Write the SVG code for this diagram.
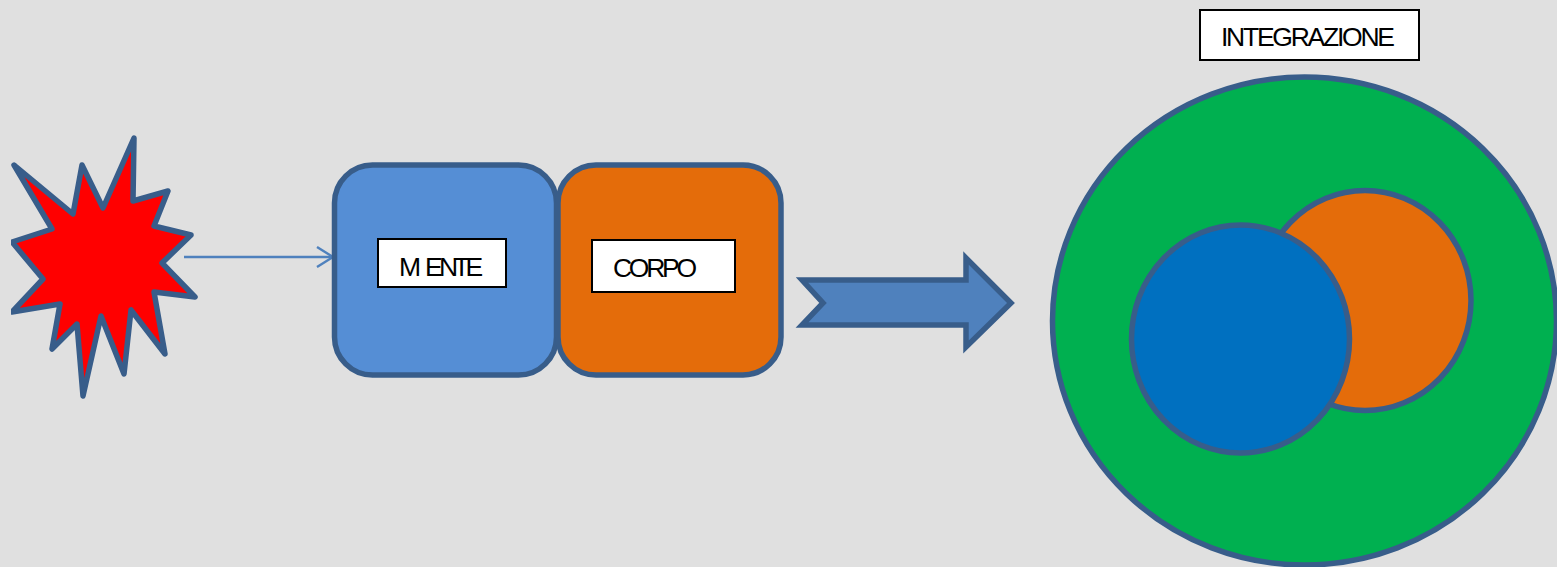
<svg xmlns="http://www.w3.org/2000/svg" width="1557" height="567" viewBox="0 0 1557 567">
<style>
.s{stroke:#385d8a;stroke-width:5.500;stroke-linejoin:round}
.b{fill:#fff;stroke:#000;stroke-width:2}
.t{font-family:"Liberation Sans",Arial,sans-serif;font-size:26.500px;fill:#000}
</style>
<defs>
<clipPath id="c"><rect x="11" y="0" width="1546" height="567"/></clipPath>
<marker id="h" viewBox="0 0 18 22" refX="17" refY="11" markerWidth="18" markerHeight="22" markerUnits="userSpaceOnUse" orient="auto"><path d="M1 1L17 11L1 21" fill="none" stroke="#4f81bd" stroke-width="2.4"/></marker>
</defs>
<rect width="1557" height="567" fill="#e0e0e0"/>
<g id="star" clip-path="url(#c)"><polygon class="s" fill="#f00" points="134,138 133,201 168,191 154,226 191,235 162,263 195,297 154,292 165,354 131,310 124,374 101,316 83,396 77,324 52,349 60,304 12,312 43,279 12,242 52,229 14,165 73,214 82,165 103,208"/></g>
<g id="connectors"><line x1="184" y1="257" x2="333" y2="257" stroke="#4f81bd" stroke-width="2.4" marker-end="url(#h)"/></g>
<g id="mente"><rect class="s" x="334.500" y="165" width="222" height="210" rx="38" fill="#558ed5"/><rect class="b" x="378" y="239" width="128" height="48"/><text class="t" y="276" x="399 425 439 453.500 465.500">MENTE</text></g>
<g id="corpo"><rect class="s" x="558" y="165" width="223" height="210" rx="38" fill="#e46c0a"/><rect class="b" x="592" y="240" width="143" height="52"/><text class="t" x="613" y="277" textLength="84" lengthAdjust="spacing">CORPO</text></g>
<g id="arrow"><polygon class="s" fill="#4f81bd" style="stroke-linejoin:miter" points="802,280 966,280 966,258 1011,303 966,347 966,325 802,325 823,303"/></g>
<g id="integrazione-label"><rect class="b" x="1200" y="10" width="219" height="50"/><text class="t" x="1221" y="46" textLength="174" lengthAdjust="spacing">INTEGRAZIONE</text></g>
<g id="outer"><ellipse class="s" cx="1304.500" cy="321" rx="252" ry="244" fill="#00b050"/></g>
<g id="orange"><ellipse class="s" cx="1365" cy="300.500" rx="106" ry="110" fill="#e46c0a"/></g>
<g id="blue"><ellipse class="s" cx="1240.500" cy="339" rx="109" ry="114" fill="#0070c0"/></g>
</svg>
